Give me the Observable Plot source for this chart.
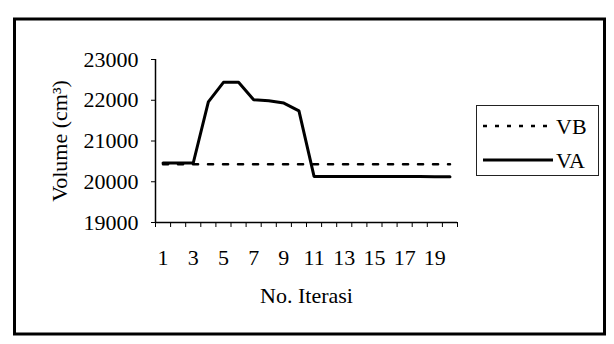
<!DOCTYPE html>
<html>
<head>
<meta charset="utf-8">
<script src="https://cdn.jsdelivr.net/npm/d3@7"></script>
<script src="https://cdn.jsdelivr.net/npm/@observablehq/plot@0.6"></script>
<style>
  html, body { margin: 0; padding: 0; background: #fff; }
  #chart svg { display: block; }
  #chart svg, #chart svg text { font-family: "Liberation Serif", "Times New Roman", Times, "DejaVu Serif", serif !important; }
</style>
</head>
<body>
<div id="chart"></div>
<script>
const iterasi = [1, 2, 3, 4, 5, 6, 7, 8, 9, 10, 11, 12, 13, 14, 15, 16, 17, 18, 19, 20];
const VA = [20460, 20460, 20460, 21960, 22440, 22440, 22010, 21990, 21930, 21740, 20130, 20130, 20130, 20130, 20130, 20130, 20130, 20130, 20125, 20120];
const VB = [20430, 20430, 20430, 20430, 20430, 20430, 20430, 20430, 20430, 20430, 20430, 20430, 20430, 20430, 20430, 20430, 20430, 20430, 20430, 20430];
const xTickLabels = [1, 3, 5, 7, 9, 11, 13, 15, 17, 19];
const xTickMarks = [0.5, 1.5, 2.5, 3.5, 4.5, 5.5, 6.5, 7.5, 8.5, 9.5, 10.5, 11.5, 12.5, 13.5, 14.5, 15.5, 16.5, 17.5, 18.5, 19.5, 20.5];
const yTicks = [19000, 20000, 21000, 22000, 23000];
const seriesNames = ["VB", "VA"];
const xTitle = "No. Iterasi";
const yTitle = "Volume (cm³)";

const data = iterasi.map((it, i) => ({iter: it, VA: VA[i], VB: VB[i]}));

const FONT = '"Liberation Serif", "Times New Roman", Times, "DejaVu Serif", serif';
const W = 614, H = 344;
const chart = Plot.plot({
  width: W,
  height: H,
  marginLeft: 155,
  marginRight: 157,
  marginTop: 59,
  marginBottom: 122,
  style: {fontFamily: FONT, fontSize: "22px", color: "#000", background: "#fff"},
  x: {type: "linear", domain: [0.5, 20.5]},
  y: {domain: [19000, 23000]},
  marks: [
    Plot.axisY({ticks: yTicks, tickSize: 4, tickPadding: 13, tickFormat: d => String(d), label: null, fontSize: 22, stroke: "#000"}),
    Plot.axisX({ticks: xTickMarks, tickSize: 5, tickFormat: () => "", label: null, stroke: "#000"}),
    Plot.axisX({ticks: xTickLabels, tickSize: 0, tickPadding: 27, tickFormat: d => String(d), label: null, fontSize: 22}),
    Plot.ruleY([19000], {stroke: "#000", strokeWidth: 1.5}),
    Plot.ruleX([0.5], {stroke: "#000", strokeWidth: 1.5}),
    Plot.line(data, {x: "iter", y: "VB", stroke: "#000", strokeWidth: 2.6, strokeDasharray: "5,10"}),
    Plot.line(data, {x: "iter", y: "VA", stroke: "#000", strokeWidth: 3}),
    Plot.text([xTitle], {frameAnchor: "bottom", textAnchor: "middle", lineAnchor: "middle", dy: 73, fontSize: 22, fill: "#000"}),
    Plot.text([yTitle], {frameAnchor: "left", textAnchor: "middle", lineAnchor: "middle", rotate: -90, dx: -96, fontSize: 22, fill: "#000"})
  ]
});

const svg = d3.select(chart);
// outer chart frame
svg.append("rect")
  .attr("x", 14.5).attr("y", 19).attr("width", 590).attr("height", 315)
  .attr("fill", "none").attr("stroke", "#000").attr("stroke-width", 3);

// legend
const lg = svg.append("g");
lg.append("rect")
  .attr("x", 476.5).attr("y", 105.5).attr("width", 122).attr("height", 70)
  .attr("fill", "#fff").attr("stroke", "#222").attr("stroke-width", 1);
const legendRows = [
  {name: seriesNames[0], dash: "4,8", width: 2.6, y: 126},
  {name: seriesNames[1], dash: null, width: 3, y: 160}
];
legendRows.forEach(r => {
  lg.append("line")
    .attr("x1", 483).attr("x2", 553).attr("y1", r.y).attr("y2", r.y)
    .attr("stroke", "#000").attr("stroke-width", r.width)
    .attr("stroke-dasharray", r.dash);
  lg.append("text")
    .attr("x", 556).attr("y", r.y).attr("dy", "0.35em")
    .attr("text-anchor", "start")
    .attr("font-family", FONT)
    .attr("font-size", 22).attr("fill", "#000")
    .text(r.name);
});

document.getElementById("chart").appendChild(chart);
</script>
</body>
</html>
